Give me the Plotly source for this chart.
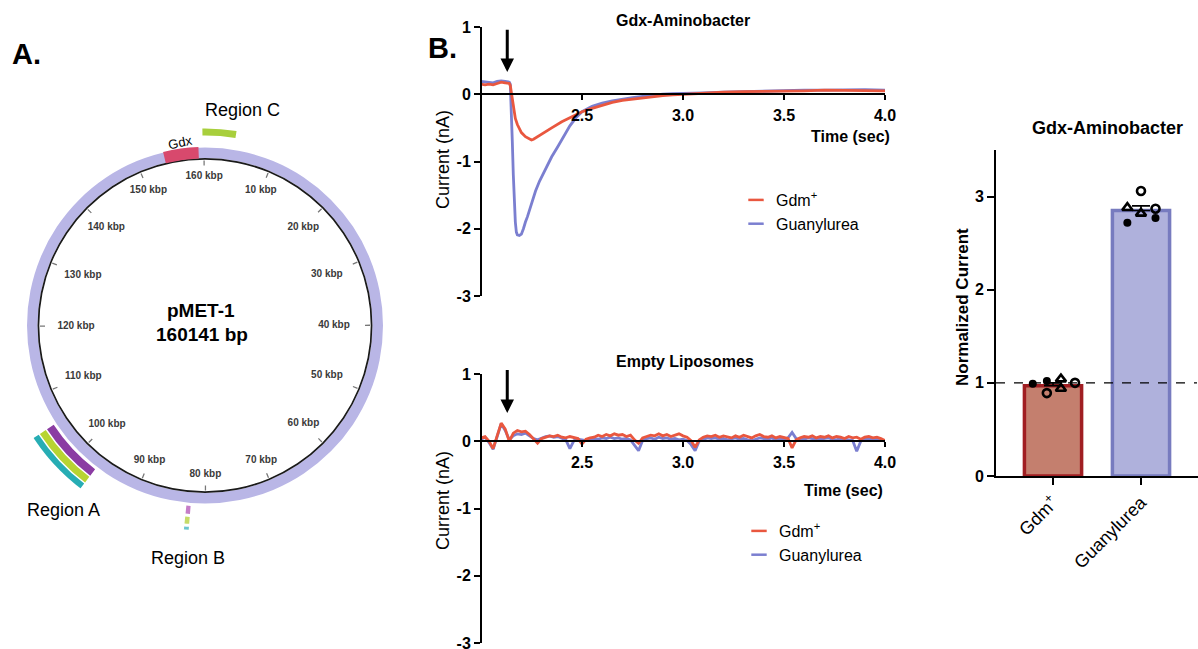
import numpy as np
import plotly.graph_objects as go

W, H = 1198, 649
FONT = "Liberation Sans, Arial, Helvetica, sans-serif"


def px(xp):
    return xp / W


def py(yp):
    return 1 - yp / H


# ---------------- Panel A: plasmid map data ----------------
plasmid_name = "pMET-1"
plasmid_kbp = 160.141
kbp_marks = [10, 20, 30, 40, 50, 60, 70, 80, 90, 100, 110, 120, 130, 140, 150, 160]
kbp_labels = [f"{k} kbp" for k in kbp_marks]
gdx_span = [154.1, 159.2]
region_c_span = [159.8, 4.1]
region_a_span = [96.7, 105.3]
region_b_span = [82.1, 82.7]

# ---------------- Panel B: current traces ----------------
top_t_gdm = [2.00, 2.02, 2.04, 2.06, 2.08, 2.10, 2.12, 2.14, 2.145, 2.15, 2.16, 2.17, 2.18, 2.19,
             2.20, 2.22, 2.24, 2.25, 2.26, 2.28, 2.31, 2.35, 2.40, 2.45, 2.50, 2.55, 2.60, 2.65,
             2.70, 2.75, 2.80, 2.85, 2.90, 2.95, 3.00, 3.10, 3.20, 3.30, 3.40, 3.50, 3.60, 3.70,
             3.80, 3.90, 4.00]
top_gdm = [0.15, 0.14, 0.15, 0.14, 0.16, 0.18, 0.17, 0.16, 0.13, 0.02, -0.22, -0.36, -0.45, -0.52,
           -0.57, -0.63, -0.67, -0.68, -0.67, -0.63, -0.57, -0.50, -0.41, -0.33, -0.26, -0.21, -0.16,
           -0.12, -0.09, -0.07, -0.05, -0.03, -0.02, -0.01, 0.00, 0.01, 0.03, 0.04, 0.04, 0.05, 0.05,
           0.06, 0.06, 0.06, 0.05]

top_t_gu = [2.00, 2.02, 2.04, 2.06, 2.08, 2.10, 2.12, 2.14, 2.145, 2.15, 2.155, 2.16, 2.165, 2.17,
            2.175, 2.18, 2.19, 2.20, 2.21, 2.215, 2.22, 2.23, 2.25, 2.27, 2.29, 2.32, 2.35, 2.38,
            2.41, 2.44, 2.47, 2.50, 2.55, 2.60, 2.65, 2.70, 2.75, 2.80, 2.85, 2.90, 2.95, 3.00,
            3.10, 3.20, 3.30, 3.40, 3.50, 3.60, 3.70, 3.80, 3.90, 4.00]
top_gu = [0.19, 0.18, 0.17, 0.17, 0.19, 0.20, 0.19, 0.18, 0.15, -0.20, -0.70, -1.20, -1.60, -1.90,
          -2.05, -2.09, -2.10, -2.08, -2.00, -1.93, -1.90, -1.82, -1.62, -1.44, -1.29, -1.10, -0.93,
          -0.78, -0.62, -0.47, -0.35, -0.26, -0.18, -0.13, -0.10, -0.07, -0.05, -0.03, -0.01, 0.00,
          0.01, 0.01, 0.02, 0.03, 0.04, 0.05, 0.06, 0.06, 0.06, 0.07, 0.07, 0.06]

# Empty liposomes: sampled every 20 ms from 2.00 s to 4.00 s
bot_gdm = [0.05, 0.07, 0.00, -0.11, 0.08, 0.27, 0.18, 0.00, 0.12, 0.16,
           0.14, 0.15, 0.10, 0.03, -0.03, 0.04, 0.06, 0.08, 0.07, 0.09,
           0.06, 0.05, 0.07, 0.06, 0.04, -0.04, 0.03, 0.05, 0.06, 0.09,
           0.07, 0.10, 0.08, 0.11, 0.09, 0.10, 0.07, 0.09, 0.02, -0.03,
           0.05, 0.07, 0.09, 0.08, 0.11, 0.08, 0.10, 0.07, 0.09, 0.11,
           0.08, 0.06, 0.01, -0.09, 0.02, 0.06, 0.08, 0.07, 0.09, 0.06,
           0.08, 0.07, 0.05, 0.08, 0.06, 0.09, 0.07, 0.05, 0.08, 0.10,
           0.07, 0.06, 0.08, 0.05, 0.07, 0.06, 0.04, -0.10, 0.02, 0.05,
           0.07, 0.06, 0.08, 0.05, 0.07, 0.06, 0.08, 0.05, 0.07, 0.06,
           0.04, 0.07, 0.05, 0.06, 0.03, 0.06, 0.07, 0.05, 0.06, 0.04,
           0.01]
bot_gu = [0.03, 0.06, -0.02, -0.12, 0.07, 0.26, 0.16, 0.02, 0.08, 0.11,
          0.10, 0.12, 0.08, 0.04, 0.02, 0.05, 0.07, 0.08, 0.06, 0.07,
          0.04, 0.02, -0.11, 0.01, 0.03, 0.02, 0.01, 0.03, 0.04, 0.03,
          0.05, 0.04, 0.06, 0.04, 0.05, 0.03, 0.04, 0.02, -0.06, -0.14,
          0.01, 0.04, 0.05, 0.03, 0.06, 0.04, 0.05, 0.03, 0.04, 0.02,
          0.03, 0.01, -0.05, -0.14, 0.00, 0.03, 0.05, 0.04, 0.05, 0.03,
          0.04, 0.02, 0.03, 0.05, 0.03, 0.04, 0.02, 0.01, 0.03, 0.05,
          0.04, 0.03, 0.05, 0.02, 0.04, 0.03, 0.05, 0.13, 0.04, 0.02,
          0.03, 0.05, 0.04, 0.02, 0.03, 0.04, 0.05, 0.03, 0.02, 0.04,
          0.03, 0.02, 0.01, -0.15, 0.00, 0.03, 0.04, 0.02, 0.03, 0.02,
          0.00]
bot_t = np.linspace(2.0, 4.0, len(bot_gdm))

arrow_time = 2.13
series_names = ["Gdm<sup>+</sup>", "Guanylurea"]

# ---------------- Panel B: normalized current bars ----------------
bar_categories = ["Gdm<sup>+</sup>", "Guanylurea"]
bar_means = [0.97, 2.85]
bar_sem = [0.03, 0.05]
pts_filled = [[0.99, 1.02], [2.72, 2.77]]
pts_open = [[0.89, 1.00], [3.06, 2.87]]
pts_tri = [[1.04, 0.94], [2.88, 2.82]]

# ---------------- styles ----------------
GDM_LINE = "#E9573F"
GU_LINE = "#7B7FD0"
GDM_FILL, GDM_EDGE = "#C47F6E", "#A01E22"
GU_FILL, GU_EDGE = "#AFB1DC", "#777BBF"
RING = "#B9B6E6"
# point offsets within each bar (beeswarm layout)
off_filled = [[-0.23, -0.07], [-0.155, 0.165]]
off_open = [[-0.07, 0.25], [0.0, 0.165]]
off_tri = [[0.09, 0.09], [-0.155, 0.0]]

fig = go.Figure()


def deg(k):
    return np.asarray(k) / plasmid_kbp * 360.0


def arc(span, base, thick, color):
    s, e = span
    if e < s:
        e += plasmid_kbp
    return go.Barpolar(r=[thick], base=[base], theta=[float(deg((s + e) / 2))],
                       width=[float(deg(e - s))], marker=dict(color=color, line=dict(width=0)),
                       subplot="polar", showlegend=False, hoverinfo="skip")


half = plasmid_kbp / 2
for span in ([0, half], [half, plasmid_kbp]):
    fig.add_trace(arc(span, 167.5, 10.5, RING))
    fig.add_trace(arc(span, 165.8, 1.7, "#1a1a1a"))
# small tick marks
fig.add_trace(go.Barpolar(r=[5] * len(kbp_marks), base=[160] * len(kbp_marks), theta=deg(kbp_marks),
                          width=[0.45] * len(kbp_marks), marker=dict(color="#777", line=dict(width=0)),
                          subplot="polar", showlegend=False, hoverinfo="skip"))
fig.add_trace(arc(gdx_span, 167.0, 11.5, "#D8496D"))
fig.add_trace(arc(region_c_span, 190, 7, "#A8CF3C"))
fig.add_trace(arc(region_a_span, 181, 8, "#8B3CA3"))
fig.add_trace(arc(region_a_span, 190.5, 7, "#B8D431"))
fig.add_trace(arc(region_a_span, 199, 7.5, "#27ADB4"))
fig.add_trace(arc(region_b_span, 181, 8, "#C57CC8"))
fig.add_trace(arc(region_b_span, 192, 7, "#C6DB68"))
fig.add_trace(arc(region_b_span, 202, 7, "#6BC5CF"))

th = deg(kbp_marks)
r_lbl = 149 - 20 * np.sin(np.radians(th)) ** 2
fig.add_trace(go.Scatterpolar(r=r_lbl, theta=th, mode="text", text=kbp_labels,
                              textfont=dict(family=FONT, size=10, color="#3a3a3a", weight="bold"),
                              subplot="polar", showlegend=False, hoverinfo="skip"))

# ---- top traces ----
fig.add_trace(go.Scatter(x=top_t_gu, y=top_gu, mode="lines", line=dict(color=GU_LINE, width=2.8),
                         xaxis="x", yaxis="y", showlegend=False, hoverinfo="skip"))
fig.add_trace(go.Scatter(x=top_t_gdm, y=top_gdm, mode="lines", line=dict(color=GDM_LINE, width=2.8),
                         xaxis="x", yaxis="y", showlegend=False, hoverinfo="skip"))
# ---- bottom traces ----
fig.add_trace(go.Scatter(x=bot_t, y=bot_gu, mode="lines", line=dict(color=GU_LINE, width=2.8),
                         xaxis="x2", yaxis="y2", showlegend=False, hoverinfo="skip"))
fig.add_trace(go.Scatter(x=bot_t, y=bot_gdm, mode="lines", line=dict(color=GDM_LINE, width=2.8),
                         xaxis="x2", yaxis="y2", showlegend=False, hoverinfo="skip"))

# legend entries
for lg, xa, ya in (("legend", "x", "y"), ("legend2", "x2", "y2")):
    for name, col in zip(series_names, [GDM_LINE, GU_LINE]):
        fig.add_trace(go.Scatter(x=[None], y=[None], mode="markers", name=name, legend=lg,
                                 marker=dict(symbol="line-ew", size=11, color=col,
                                             line=dict(color=col, width=2.5)),
                                 xaxis=xa, yaxis=ya))

# ---- bars ----
cat_x = list(range(len(bar_categories)))
fig.add_trace(go.Bar(x=cat_x, y=bar_means, width=0.65, xaxis="x3", yaxis="y3", showlegend=False,
                     marker=dict(color=[GDM_FILL, GU_FILL], line=dict(color=[GDM_EDGE, GU_EDGE], width=3.5)),
                     error_y=dict(type="data", symmetric=False, array=bar_sem, arrayminus=[0, 0],
                                  color="black", thickness=1.6, width=9),
                     hoverinfo="skip"))
for vals, offs, sym, size, lw in ((pts_filled, off_filled, "circle", 8, 0),
                                  (pts_open, off_open, "circle-open", 8, 2.6),
                                  (pts_tri, off_tri, "triangle-up-open", 9, 2.6)):
    xs, ys = [], []
    for ci in cat_x:
        for v, o in zip(vals[ci], offs[ci]):
            xs.append(ci + o)
            ys.append(v)
    fig.add_trace(go.Scatter(x=xs, y=ys, mode="markers", xaxis="x3", yaxis="y3", showlegend=False,
                             marker=dict(symbol=sym, size=size, color="black",
                                         line=dict(color="black", width=lw)),
                             hoverinfo="skip", cliponaxis=False))

bold16 = dict(family=FONT, size=16, color="black", weight="bold")

xcommon = dict(range=[2.0, 4.0], anchor="free", showline=True, linecolor="black", linewidth=1.6,
               ticks="outside", ticklen=5, tickwidth=1.5, tickcolor="black",
               tickvals=[2.5, 3.0, 3.5, 4.0], ticktext=["2.5", "3.0", "3.5", "4.0"],
               tickfont=bold16, showgrid=False, zeroline=False, ticklabelstandoff=2,
               automargin=False, ticklabeloverflow="allow")
ycommon = dict(range=[-3, 1], anchor="free", position=px(481), showline=True, linecolor="black",
               linewidth=2, ticks="outside", ticklen=6, tickwidth=2, tickcolor="black",
               tickvals=[-3, -2, -1, 0, 1], ticktext=["-3", "-2", "-1", "0", "1"],
               tickfont=bold16, showgrid=False, zeroline=False, automargin=False,
               ticklabeloverflow="allow")

fig.update_layout(
    template="none",
    width=W, height=H, margin=dict(l=0, r=0, t=0, b=0, autoexpand=False),
    paper_bgcolor="white", plot_bgcolor="rgba(0,0,0,0)",
    xaxis=dict(domain=[px(481), px(885)], position=py(94), **xcommon),
    yaxis=dict(domain=[py(296), py(27)], **ycommon),
    xaxis2=dict(domain=[px(481), px(885)], position=py(441), **xcommon),
    yaxis2=dict(domain=[py(643), py(374)], **ycommon),
    xaxis3=dict(domain=[px(996), 1.0], range=[-0.648, 1.648], anchor="y3", showline=True,
                linecolor="black", linewidth=2, ticks="outside", ticklen=7, tickwidth=2,
                tickcolor="black", tickvals=cat_x, ticktext=bar_categories, tickangle=-45,
                tickfont=dict(family=FONT, size=18, color="black"), showgrid=False, zeroline=False,
                automargin=False, ticklabeloverflow="allow"),
    yaxis3=dict(domain=[py(476), py(150)], range=[0, 3.5], anchor="x3", showline=True,
                linecolor="black", linewidth=2, ticks="outside", ticklen=7, tickwidth=2,
                tickcolor="black", tickvals=[0, 1, 2, 3], tickfont=bold16,
                showgrid=False, zeroline=False, automargin=False),
    polar=dict(domain=dict(x=[0, px(410)], y=[py(530.5), py(120.5)]),
               bgcolor="rgba(0,0,0,0)", hole=0,
               radialaxis=dict(visible=False, range=[0, 205]),
               angularaxis=dict(visible=False, rotation=90, direction="clockwise")),
    legend=dict(x=px(736), y=py(183), xanchor="left", yanchor="top", bgcolor="rgba(0,0,0,0)",
                font=dict(family=FONT, size=16, color="black"), tracegroupgap=0, itemsizing="trace"),
    legend2=dict(x=px(739), y=py(514), xanchor="left", yanchor="top", bgcolor="rgba(0,0,0,0)",
                 font=dict(family=FONT, size=16, color="black"), tracegroupgap=0, itemsizing="trace"),
    shapes=[dict(type="line", xref="x3 domain", yref="y3", x0=0, x1=0.995, y0=1, y1=1,
                 line=dict(color="black", width=1.2, dash="dash"), layer="above")],
)


def ann(text, x, y, size, bold=False, angle=0, color="black"):
    f = dict(family=FONT, size=size, color=color)
    if bold:
        f["weight"] = "bold"
    return dict(text=text, x=px(x), y=py(y), xref="paper", yref="paper", showarrow=False,
                xanchor="center", yanchor="middle", textangle=angle, font=f)


annotations = [
    ann("A.", 26, 54, 29, bold=True),
    ann("B.", 442, 48, 29, bold=True),
    ann("Region C", 242, 110, 18),
    ann("Gdx", 180, 142, 13, angle=-12),
    ann("Region A", 63, 510, 18),
    ann("Region B", 188, 558, 18),
    ann(plasmid_name, 201, 311, 19, bold=True),
    ann(f"{plasmid_kbp * 1000:.0f} bp", 202, 334, 19, bold=True),
    ann("Gdx-Aminobacter", 683, 21, 16, bold=True),
    ann("Empty Liposomes", 685, 361, 16, bold=True),
    ann("Time (sec)", 850, 137, 16, bold=True),
    ann("Time (sec)", 843, 490, 16, bold=True),
    ann("Current (nA)", 443, 160, 18, angle=-90),
    ann("Current (nA)", 443, 501, 18, angle=-90),
    ann("Gdx-Aminobacter", 1107, 128, 18, bold=True),
    ann("Normalized Current", 962, 307, 17, bold=True, angle=-90),
]
for xa, ya, y_head, y_tail in (("x", "y", 0.33, 0.98), ("x2", "y2", 0.42, 1.08)):
    annotations.append(dict(x=arrow_time, y=y_head, ax=arrow_time, ay=y_tail, xref=xa, yref=ya,
                            axref=xa, ayref=ya, showarrow=True, arrowhead=2, arrowsize=0.9,
                            arrowwidth=3, arrowcolor="black", text=""))
fig.update_layout(annotations=annotations)

fig.write_html("out.html")
